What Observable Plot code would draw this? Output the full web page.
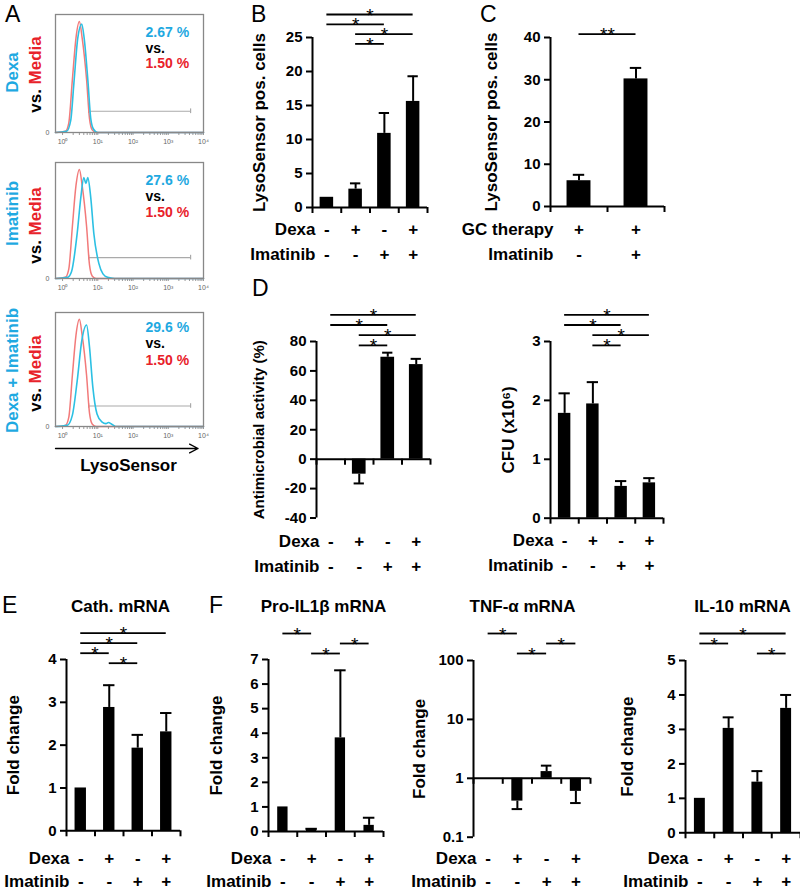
<!DOCTYPE html>
<html><head><meta charset="utf-8">
<script src="https://cdn.jsdelivr.net/npm/d3@7"></script>
<script src="https://cdn.jsdelivr.net/npm/@observablehq/plot@0.6"></script>
<style>
body{margin:0;background:#fff;}
#fig{position:relative;width:800px;height:891px;overflow:hidden;font-family:"Liberation Sans",Arial,sans-serif;background:#fff;}
.letter{position:absolute;font-size:23px;line-height:23px;font-weight:normal;color:#000;}
</style></head><body><div id="fig"></div>
<script>
// ================= DATA =================
// Panel A: flow histograms, points = [LysoSensor intensity, relative count]
const histTickValues = [1, 10, 100, 1000, 10000];
const histTickLabels = ["10⁰", "10¹", "10²", "10³", "10⁴"];
const mediaHist = [[0.63,0],[1.2,0.01],[1.5,0.08],[1.9,0.45],[2.4,0.8],[3.0,0.94],[3.6,0.8],[4.8,0.45],[5.8,0.12],[7,0.02],[9,0],[10000,0]];
const dexaHist = [[0.63,0],[1.3,0.01],[1.7,0.1],[2.1,0.42],[2.7,0.8],[3.5,0.92],[4.1,0.8],[5.2,0.45],[6.3,0.12],[7.5,0.03],[10,0],[10000,0]];
const imatinibHist = [[0.63,0],[1.4,0.01],[1.8,0.06],[2.6,0.39],[3.3,0.7],[4.0,0.87],[4.6,0.82],[5.2,0.87],[6.3,0.7],[7.7,0.39],[10.7,0.13],[14,0.04],[19,0.01],[30,0],[10000,0]];
const comboHist = [[0.63,0],[1.35,0.01],[1.9,0.1],[2.6,0.4],[3.5,0.75],[4.8,0.89],[5.8,0.7],[7.2,0.35],[9.5,0.11],[13,0.04],[17,0.025],[20,0.035],[25,0.02],[32,0],[10000,0]];
const histConditions = ["Dexa", "Imatinib", "Dexa + Imatinib"];
const histPercents = ["2.67 %", "27.6 %", "29.6 %"];
const mediaPercent = "1.50 %";
const gateRange = [5.5, 4300];

// Treatment rows
const dexaSigns = ["-", "+", "-", "+"];
const imatinibSigns = ["-", "-", "+", "+"];
const gcTherapySigns = ["+", "+"];
const gcImatinibSigns = ["-", "+"];

// Panel B: LysoSensor pos. cells
const lysoMean = [1.5, 2.7, 10.9, 15.6];
const lysoErr = [0, 0.85, 3.0, 3.7];
const lysoTicks = [0, 5, 10, 15, 20, 25];
const lysoBrackets = [[1, 4], [1, 3], [2, 4], [2, 3]];

// Panel C: GC therapy
const gcMean = [6.1, 30.2];
const gcErr = [1.4, 2.6];
const gcTicks = [0, 10, 20, 30, 40];
const gcBrackets = [[1, 2]];

// Panel D: antimicrobial activity and CFU
const antiMean = [0, -10.2, 69.3, 64.3];
const antiErr = [0, 6.3, 3.1, 3.9];
const antiTicks = [-40, -20, 0, 20, 40, 60, 80];
const antiBrackets = [[1, 4], [1, 3], [2, 4], [2, 3]];
const cfuMean = [1.78, 1.94, 0.54, 0.60];
const cfuErr = [0.34, 0.37, 0.09, 0.08];
const cfuTicks = [0, 1, 2, 3];
const cfuBrackets = [[1, 4], [1, 3], [2, 4], [2, 3]];

// Panel E: Cath. mRNA
const cathMean = [1.0, 2.88, 1.93, 2.31];
const cathErr = [0, 0.52, 0.31, 0.44];
const cathTicks = [0, 1, 2, 3, 4];
const cathBrackets = [[1, 4], [1, 3], [1, 2], [2, 3]];

// Panel F: Pro-IL1β, TNF-α, IL-10 mRNA
const il1bMean = [1.0, 0.08, 3.81, 0.25];
const il1bErr = [0, 0.03, 2.75, 0.31];
const il1bTicks = [0, 1, 2, 3, 4, 5, 6, 7];
const il1bBrackets = [[1, 2], [3, 4], [2, 3]];
const tnfMean = [1.0, 0.41, 1.30, 0.60];
const tnfErr = [0, 0.11, 0.34, 0.22];
const tnfTicks = [0.1, 1, 10, 100];
const tnfBrackets = [[1, 2], [3, 4], [2, 3]];
const il10Mean = [1.0, 3.03, 1.47, 3.61];
const il10Err = [0, 0.32, 0.32, 0.39];
const il10Ticks = [0, 1, 2, 3, 4, 5];
const il10Brackets = [[1, 4], [1, 2], [3, 4]];

// ================= DRAWING =================
const fig = document.getElementById("fig");
const FONT = "'Liberation Sans', Arial, sans-serif";
const CYAN_TXT = "#1FA9E1", RED_TXT = "#E8222A";
const CYAN_LINE = "#2CC0E3", RED_LINE = "#F27A7A";

function place(el, x, y) {
  el.style.position = "absolute";
  el.style.left = x + "px";
  el.style.top = y + "px";
  fig.appendChild(el);
}

function barPanel(c) {
  const n = c.mean.length;
  const base = c.base;
  const rows = c.mean.map((m, i) => ({i: i + 1, mean: m, err: c.err[i], end: m + (m < base ? -1 : 1) * c.err[i]}));
  const f = c.frame, s = c.svg;
  const frameCx = (f.x0 + f.x1) / 2;
  const yTop = c.yDomain[1];
  const marks = [
    Plot.rect(rows.filter(d => d.mean !== base), {x1: d => d.i - c.barHalf, x2: d => d.i + c.barHalf, y1: base, y2: "mean", fill: "black"}),
    Plot.ruleX(rows.filter(d => d.err > 0), {x: "i", y1: "mean", y2: "end", strokeWidth: 2}),
    Plot.ruleY(rows.filter(d => d.err > 0), {y: "end", x1: d => d.i - c.capHalf, x2: d => d.i + c.capHalf, strokeWidth: 2}),
    Plot.ruleX([0.5], {y1: c.yDomain[0], y2: c.yDomain[1], strokeWidth: 2}),
    Plot.ruleY([base], {x1: 0.5, x2: n + 0.5, strokeWidth: 2}),
    Plot.ruleX(d3.range(n + 1).map(k => k + 0.5), {y1: base, y2: base, insetTop: 0, insetBottom: -6, strokeWidth: 2}),
    Plot.axisY({ticks: c.yTicks, tickFormat: d => String(d), tickSize: 6, tickPadding: 4, strokeWidth: 2, label: null, fontSize: 15, fontWeight: "bold"}),
    Plot.text([c.yTitle], {frameAnchor: "left", text: d => d, rotate: -90, textAnchor: "middle", dx: c.yTitleX - f.x0, lineAnchor: "middle", fontSize: c.yTitleSize || 17, fontWeight: "bold"})
  ];
  c.rows.forEach((r, k) => {
    const dy = c.rowY[k] - f.y1;
    marks.push(Plot.text([r.name], {frameAnchor: "bottom-left", text: d => d, textAnchor: "end", dx: 3, dy, lineAnchor: "middle", fontSize: 17, fontWeight: "bold"}));
    marks.push(Plot.text(r.signs, {x: (d, i) => i + 1, frameAnchor: "bottom", textAnchor: "middle", text: d => d, dy, lineAnchor: "middle", fontSize: 17, fontWeight: "bold"}));
  });
  c.brackets.forEach((b, k) => {
    const dy = c.bracketTop + k * c.bracketStep - f.y0;
    marks.push(Plot.ruleY([yTop], {x1: b[0], x2: b[1], dy, strokeWidth: 1.8}));
    marks.push(Plot.text([c.sig || "*"], {x: (b[0] + b[1]) / 2, y: yTop, dy: dy + 1, text: d => d, textAnchor: "middle", lineAnchor: "middle", fontSize: 19, fontWeight: "normal"}));
  });
  if (c.title) {
    marks.push(Plot.text([c.title], {frameAnchor: "top", text: d => d, textAnchor: "middle", dx: c.titleX - frameCx, dy: c.titleY - f.y0, lineAnchor: "middle", fontSize: 17, fontWeight: "bold"}));
  }
  const el = Plot.plot({
    width: s.w, height: s.h,
    marginLeft: f.x0 - s.x, marginRight: s.x + s.w - f.x1,
    marginTop: f.y0 - s.y, marginBottom: s.y + s.h - f.y1,
    x: {domain: [0.5, n + 0.5], axis: null},
    y: {type: c.yType || "linear", domain: c.yDomain},
    style: {background: "none", fontFamily: FONT, fontSize: "15px", color: "black", overflow: "visible"},
    marks
  });
  place(el, s.x, s.y);
}

function histPanel(c) {
  const f = c.frame, s = c.svg;
  const frameCy = (f.y0 + f.y1) / 2, frameCx = (f.x0 + f.x1) / 2;
  const xDomain = [0.63, 10000];
  const minor = d3.scaleLog().domain([1, 10000]).ticks();
  const gateLevel = 0.18;
  const marks = [
    Plot.ruleX(minor, {y1: 0, y2: 0, insetTop: 0, insetBottom: -3, stroke: "#999", strokeWidth: 1}),
    Plot.axisX({ticks: histTickValues, tickFormat: d => histTickLabels[histTickValues.indexOf(d)], tickSize: 0, tickPadding: 7, fontSize: 7, fill: "#666", label: null}),
    Plot.text(["0"], {frameAnchor: "bottom-left", text: d => d, dx: -6, textAnchor: "end", lineAnchor: "middle", fontSize: 7, fill: "#666"}),
    Plot.ruleY([gateLevel], {x1: gateRange[0], x2: gateRange[1], stroke: "#aaa", strokeWidth: 1.2}),
    Plot.ruleX(gateRange, {y1: gateLevel - 0.02, y2: gateLevel + 0.02, stroke: "#aaa", strokeWidth: 1.2}),
    Plot.line(c.media, {x: d => d[0], y: d => d[1], stroke: RED_LINE, strokeWidth: 1.5, curve: "monotone-x"}),
    Plot.line(c.treated, {x: d => d[0], y: d => d[1], stroke: CYAN_LINE, strokeWidth: 1.6, curve: "monotone-x"}),
    Plot.frame({stroke: "#888", strokeWidth: 1.3}),
    Plot.text([c.percent], {frameAnchor: "top-left", text: d => d, textAnchor: "start", dx: 90, dy: c.pctDy[0], lineAnchor: "middle", fill: CYAN_TXT, fontSize: 14, fontWeight: "bold"}),
    Plot.text(["vs."], {frameAnchor: "top-left", text: d => d, textAnchor: "start", dx: 90, dy: c.pctDy[1], lineAnchor: "middle", fill: "black", fontSize: 14, fontWeight: "bold"}),
    Plot.text([mediaPercent], {frameAnchor: "top-left", text: d => d, textAnchor: "start", dx: 90, dy: c.pctDy[2], lineAnchor: "middle", fill: RED_TXT, fontSize: 14, fontWeight: "bold"}),
    Plot.text([c.condition], {frameAnchor: "left", text: d => d, rotate: -90, textAnchor: "middle", dx: 12.5 - f.x0, dy: c.condY - frameCy, lineAnchor: "middle", fill: CYAN_TXT, fontSize: 17, fontWeight: "bold"}),
    Plot.text(["vs."], {frameAnchor: "left", text: d => d, rotate: -90, textAnchor: "end", dx: 35 - f.x0, dy: c.vsY + 14.6 - frameCy, lineAnchor: "middle", fill: "black", fontSize: 17, fontWeight: "bold"}),
    Plot.text(["Media"], {frameAnchor: "left", text: d => d, rotate: -90, textAnchor: "start", dx: 35 - f.x0, dy: c.vsY + 9.9 - frameCy, lineAnchor: "middle", fill: RED_TXT, fontSize: 17, fontWeight: "bold"})
  ];
  if (c.arrow) {
    marks.push(Plot.arrow([0], {x1: xDomain[0], x2: 7000, y1: 0, y2: 0, dy: 22, stroke: "black", strokeWidth: 1.3, headLength: 11, headAngle: 55}));
    marks.push(Plot.text(["LysoSensor"], {frameAnchor: "bottom", text: d => d, textAnchor: "middle", dx: 128 - frameCx, dy: 39, lineAnchor: "middle", fontSize: 17, fontWeight: "bold"}));
  }
  const el = Plot.plot({
    width: s.w, height: s.h,
    marginLeft: f.x0 - s.x, marginRight: s.x + s.w - f.x1,
    marginTop: f.y0 - s.y, marginBottom: s.y + s.h - f.y1,
    x: {type: "log", domain: xDomain},
    y: {domain: [0, 1], axis: null},
    style: {background: "none", fontFamily: FONT, fontSize: "10px", color: "black", overflow: "visible"},
    marks
  });
  place(el, s.x, s.y);
}

// ---- Panel A ----
histPanel({svg: {x: 0, y: 0, w: 240, h: 150}, frame: {x0: 55, x1: 203, y0: 14, y1: 132},
  media: mediaHist, treated: dexaHist, percent: histPercents[0], condition: histConditions[0],
  pctDy: [18, 34, 49], condY: 72, vsY: 74});
histPanel({svg: {x: 0, y: 148, w: 240, h: 150}, frame: {x0: 55, x1: 203, y0: 162, y1: 278},
  media: mediaHist, treated: imatinibHist, percent: histPercents[1], condition: histConditions[1],
  pctDy: [18, 34, 50], condY: 213, vsY: 225});
histPanel({svg: {x: 0, y: 298, w: 240, h: 180}, frame: {x0: 55, x1: 203, y0: 312, y1: 426},
  media: mediaHist, treated: comboHist, percent: histPercents[2], condition: histConditions[2],
  pctDy: [15, 31, 48], condY: 370, vsY: 373, arrow: true});

// ---- Panel B ----
barPanel({svg: {x: 240, y: 0, w: 215, h: 270}, frame: {x0: 312, x1: 427, y0: 37, y1: 207},
  mean: lysoMean, err: lysoErr, base: 0, yDomain: [0, 25], yTicks: lysoTicks,
  barHalf: 0.235, capHalf: 0.18, yTitle: "LysoSensor pos. cells", yTitleX: 259,
  rows: [{name: "Dexa", signs: dexaSigns}, {name: "Imatinib", signs: imatinibSigns}], rowY: [229, 254],
  brackets: lysoBrackets, bracketTop: 14, bracketStep: 9.8});

// ---- Panel C ----
barPanel({svg: {x: 455, y: 0, w: 235, h: 270}, frame: {x0: 550, x1: 664, y0: 37, y1: 206},
  mean: gcMean, err: gcErr, base: 0, yDomain: [0, 40], yTicks: gcTicks,
  barHalf: 0.21, capHalf: 0.1, yTitle: "LysoSensor pos. cells", yTitleX: 491,
  rows: [{name: "GC therapy", signs: gcTherapySigns}, {name: "Imatinib", signs: gcImatinibSigns}], rowY: [229, 254],
  brackets: gcBrackets, bracketTop: 33.7, bracketStep: 10, sig: "**"});

// ---- Panel D ----
barPanel({svg: {x: 240, y: 290, w: 215, h: 290}, frame: {x0: 316, x1: 430, y0: 341, y1: 517.5},
  mean: antiMean, err: antiErr, base: 0, yDomain: [-40, 80], yTicks: antiTicks,
  barHalf: 0.24, capHalf: 0.18, yTitle: "Antimicrobial activity (%)", yTitleX: 259, yTitleSize: 15,
  rows: [{name: "Dexa", signs: dexaSigns}, {name: "Imatinib", signs: imatinibSigns}], rowY: [541, 566],
  brackets: antiBrackets, bracketTop: 314.3, bracketStep: 10.2});
barPanel({svg: {x: 455, y: 290, w: 230, h: 290}, frame: {x0: 550, x1: 663, y0: 341, y1: 517.7},
  mean: cfuMean, err: cfuErr, base: 0, yDomain: [0, 3], yTicks: cfuTicks,
  barHalf: 0.22, capHalf: 0.2, yTitle: "CFU (x10⁶)", yTitleX: 508,
  rows: [{name: "Dexa", signs: dexaSigns}, {name: "Imatinib", signs: imatinibSigns}], rowY: [540, 565],
  brackets: cfuBrackets, bracketTop: 314.3, bracketStep: 10.2});

// ---- Panel E ----
barPanel({svg: {x: 0, y: 595, w: 200, h: 296}, frame: {x0: 66, x1: 180, y0: 659, y1: 830.3},
  mean: cathMean, err: cathErr, base: 0, yDomain: [0, 4], yTicks: cathTicks,
  barHalf: 0.2, capHalf: 0.2, yTitle: "Fold change", yTitleX: 13,
  rows: [{name: "Dexa", signs: dexaSigns}, {name: "Imatinib", signs: imatinibSigns}], rowY: [858, 881],
  brackets: cathBrackets, bracketTop: 632.7, bracketStep: 10, title: "Cath. mRNA", titleX: 120, titleY: 606});

// ---- Panel F ----
barPanel({svg: {x: 200, y: 595, w: 200, h: 296}, frame: {x0: 268, x1: 383, y0: 659, y1: 831},
  mean: il1bMean, err: il1bErr, base: 0, yDomain: [0, 7], yTicks: il1bTicks,
  barHalf: 0.18, capHalf: 0.2, yTitle: "Fold change", yTitleX: 216,
  rows: [{name: "Dexa", signs: dexaSigns}, {name: "Imatinib", signs: imatinibSigns}], rowY: [858, 881],
  brackets: il1bBrackets, bracketTop: 633, bracketStep: 10, title: "Pro-IL1β mRNA", titleX: 323, titleY: 606});
barPanel({svg: {x: 400, y: 595, w: 205, h: 296}, frame: {x0: 473, x1: 590, y0: 660, y1: 836.7},
  mean: tnfMean, err: tnfErr, base: 1, yType: "log", yDomain: [0.1, 100], yTicks: tnfTicks,
  barHalf: 0.19, capHalf: 0.18, yTitle: "Fold change", yTitleX: 419,
  rows: [{name: "Dexa", signs: dexaSigns}, {name: "Imatinib", signs: imatinibSigns}], rowY: [858, 881],
  brackets: tnfBrackets, bracketTop: 633, bracketStep: 10, title: "TNF-α mRNA", titleX: 522, titleY: 606});
barPanel({svg: {x: 605, y: 595, w: 195, h: 296}, frame: {x0: 685, x1: 800, y0: 660, y1: 832.3},
  mean: il10Mean, err: il10Err, base: 0, yDomain: [0, 5], yTicks: il10Ticks,
  barHalf: 0.19, capHalf: 0.19, yTitle: "Fold change", yTitleX: 627,
  rows: [{name: "Dexa", signs: dexaSigns}, {name: "Imatinib", signs: imatinibSigns}], rowY: [858, 881],
  brackets: il10Brackets, bracketTop: 633, bracketStep: 10, title: "IL-10 mRNA", titleX: 742, titleY: 606});

// ---- Panel letters ----
const panelLetters = ["A", "B", "C", "D", "E", "F"];
const letterPos = [[5, 22], [251, 22], [480, 22], [252, 296], [2, 613], [209, 613]];
panelLetters.forEach((L, k) => {
  const d = document.createElement("div");
  d.className = "letter";
  d.textContent = L;
  d.style.left = letterPos[k][0] + "px";
  d.style.top = (letterPos[k][1] - 19.5) + "px";
  fig.appendChild(d);
});
</script></body></html>
